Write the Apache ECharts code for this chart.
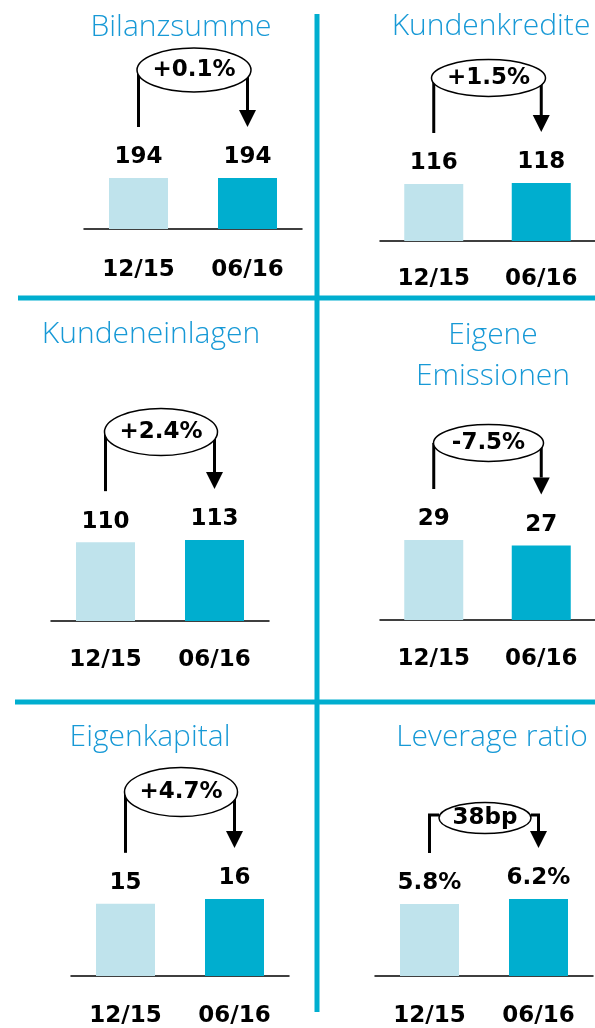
<!DOCTYPE html>
<html>
<head>
<meta charset="utf-8">
<script src="https://cdn.jsdelivr.net/npm/echarts@6/dist/echarts.min.js"></script>
<style>
  html, body { margin: 0; padding: 0; background: #fff; }
  #chart { width: 595px; height: 1028px; }
</style>
</head>
<body>
<div id="chart"></div>
<script>
// data
const categories = ['12/15', '06/16'];
const titles = ['Bilanzsumme', 'Kundenkredite', 'Kundeneinlagen', 'Eigene\nEmissionen', 'Eigenkapital', 'Leverage ratio'];
const bilanzsumme = [194, 194];
const kundenkredite = [116, 118];
const kundeneinlagen = [110, 113];
const eigeneEmissionen = [29, 27];
const eigenkapital = [15, 16];
const leverageRatio = [5.8, 6.2];
const valueSuffix = ['', '', '', '', '', '%'];
const changes = ['+0.1%', '+1.5%', '+2.4%', '-7.5%', '+4.7%', '38bp'];

const values = [bilanzsumme, kundenkredite, kundeneinlagen, eigeneEmissionen, eigenkapital, leverageRatio];

// layout per panel (pixels)
const panels = [
  { left: 84,  barTop: 178, axisY: 229, titleX: 181, titleTop: 7,   margin: 30, lift: 108, rx: 57,   ry: 22 },
  { left: 380, barTop: 183, axisY: 241, titleX: 491, titleTop: 6,   margin: 27, lift: 105, rx: 57,   ry: 18.5 },
  { left: 51,  barTop: 540, axisY: 621, titleX: 151, titleTop: 314, margin: 28, lift: 108, rx: 56.5, ry: 23.5 },
  { left: 380, barTop: 540, axisY: 620, titleX: 493, titleTop: 315, margin: 28, lift: 97,  rx: 55,   ry: 18.5 },
  { left: 71,  barTop: 899, axisY: 979, titleX: 150, titleTop: 717, margin: 29, lift: 107, rx: 56.5, ry: 24.5 },
  { left: 375, barTop: 899, axisY: 979, titleX: 492, titleTop: 717, margin: 29, lift: 81,  rx: 46,   ry: 15.5, bracket: true }
];

const barColors = ['#bfe3ec', '#00aecf'];
const cyan = '#00aecf';
const titleBlue = '#1799d6';
const BOLD = 'DejaVu Sans';

const chart = echarts.init(document.getElementById('chart'));

const option = {
  animation: false,
  backgroundColor: '#fff',
  title: panels.map((p, i) => ({
    text: titles[i],
    left: p.titleX,
    top: p.titleTop,
    textAlign: 'center',
    padding: 0,
    textStyle: {
      fontFamily: 'Open Sans',
      fontWeight: 300,
      fontSize: 30,
      lineHeight: 41,
      color: titleBlue
    }
  })),
  grid: panels.map(p => ({
    left: p.left,
    width: 218,
    top: p.barTop,
    height: p.axisY - p.barTop
  })),
  xAxis: panels.map((p, i) => ({
    type: 'category',
    gridIndex: i,
    data: categories,
    axisTick: { show: false },
    axisLine: { lineStyle: { color: '#000', width: 1.5 } },
    axisLabel: {
      margin: p.margin,
      color: '#000',
      fontFamily: BOLD,
      fontWeight: 'bold',
      fontSize: 23
    }
  })),
  yAxis: panels.map((p, i) => ({
    type: 'value',
    gridIndex: i,
    min: 0,
    max: v => v.max,
    show: false
  })),
  series: values.map((vals, i) => ({
    type: 'bar',
    xAxisIndex: i,
    yAxisIndex: i,
    data: vals,
    barWidth: 59,
    itemStyle: { color: params => barColors[params.dataIndex] },
    label: {
      show: true,
      position: 'top',
      distance: 9,
      formatter: params => params.value + valueSuffix[i],
      color: '#000',
      fontFamily: BOLD,
      fontWeight: 'bold',
      fontSize: 23
    }
  }))
};

chart.setOption(option);

// dividers + change annotations, placed from the bar positions
const graphic = [
  { type: 'line', shape: { x1: 317, y1: 14, x2: 317, y2: 1012 }, style: { stroke: cyan, lineWidth: 5 } },
  { type: 'line', shape: { x1: 18, y1: 298, x2: 595, y2: 298 }, style: { stroke: cyan, lineWidth: 5 } },
  { type: 'line', shape: { x1: 15, y1: 702, x2: 595, y2: 702 }, style: { stroke: cyan, lineWidth: 5 } }
];

const head = 17;
panels.forEach((p, i) => {
  const a = chart.convertToPixel({ seriesIndex: i }, [0, values[i][0]]);
  const b = chart.convertToPixel({ seriesIndex: i }, [1, values[i][1]]);
  const cy = Math.min(a[1], b[1]) - p.lift;
  const cx = (a[0] + b[0]) / 2 + 1;
  const endA = a[1] - 51;
  const endB = b[1] - 51;
  const stroke = { stroke: '#000', lineWidth: 3, fill: null };

  if (p.bracket) {
    const by = cy - 3;
    graphic.push({ type: 'polyline', shape: { points: [[cx - p.rx, by], [a[0], by], [a[0], endA]] }, style: stroke });
    graphic.push({ type: 'polyline', shape: { points: [[cx + p.rx, by], [b[0], by], [b[0], endB - head]] }, style: stroke });
  } else {
    graphic.push({ type: 'polyline', shape: { points: [[a[0], cy], [a[0], endA]] }, style: stroke });
    graphic.push({ type: 'polyline', shape: { points: [[b[0], cy], [b[0], endB - head]] }, style: stroke });
  }
  graphic.push({
    type: 'polygon',
    shape: { points: [[b[0] - head / 2, endB - head], [b[0] + head / 2, endB - head], [b[0], endB]] },
    style: { fill: '#000' }
  });
  graphic.push({
    type: 'ellipse',
    shape: { cx: cx, cy: cy, rx: p.rx, ry: p.ry },
    style: { fill: '#fff', stroke: '#000', lineWidth: 1.5 },
    z: 10
  });
  graphic.push({
    type: 'text',
    x: cx,
    y: cy,
    z: 11,
    style: {
      text: changes[i],
      align: 'center',
      verticalAlign: 'middle',
      fill: '#000',
      font: 'bold 23px "DejaVu Sans"'
    }
  });
});

chart.setOption({ graphic: graphic });
</script>
</body>
</html>
